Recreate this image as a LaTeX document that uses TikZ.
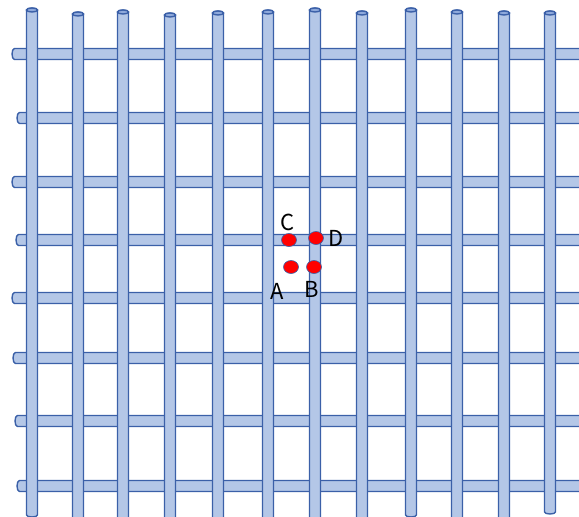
\documentclass[tikz,border=0pt]{standalone}
\usepackage{fontspec}
\newfontfamily\labfont{Noto Sans CJK JP}
\usetikzlibrary{shapes.geometric}
\definecolor{barfill}{HTML}{B4C7E7}
\definecolor{bardraw}{HTML}{3B60A8}
\definecolor{capfill}{HTML}{8FAADC}
\tikzset{
  barstyle/.style={fill=barfill,draw=bardraw,line width=1.4pt,line join=round},
  capstyle/.style={fill=capfill,draw=bardraw,line width=1.4pt},
  dotstyle/.style={ellipse,fill=red,draw=bardraw,line width=0.6pt,minimum width=15pt,minimum height=13pt,inner sep=0pt},
  labstyle/.style={font=\labfont\fontsize{22}{24}\selectfont,inner sep=0pt}
}
\begin{document}
\begin{tikzpicture}[x=1pt,y=-1pt]
\useasboundingbox (0,0) rectangle (579,517);
\clip (0,0) rectangle (579,517);
\fill[white] (0,0) rectangle (579,517);
% horizontal bars
\foreach \yy/\l in {54/12, 118/17, 182/12, 240/16, 298/12, 358/13, 421/15, 486/17}{
  \filldraw[barstyle] (590,\yy-5.5) -- (\l+2.5,\yy-5.5) arc[start angle=270,end angle=90,x radius=2.5,y radius=5.5] -- (590,\yy+5.5) -- cycle;
}
% vertical bars
\foreach \xx/\t/\b in {32/10/515, 78/14/530, 123/12/530, 170/15/530, 218/13/530, 268/12/530, 315/10/530, 362/13/530, 411/10/515, 457/12/530, 504/13/530, 550/13/512}{
  \filldraw[barstyle] (\xx-5.5,\b) -- (\xx-5.5,\t) arc[start angle=180,end angle=360,x radius=5.5,y radius=2] -- (\xx+5.5,\b) arc[start angle=0,end angle=180,x radius=5.5,y radius=2] -- cycle;
  \filldraw[capstyle] (\xx,\t) ellipse[x radius=5.5,y radius=2];
}
% points
\node[dotstyle] (C) at (289,240) {};
\node[dotstyle] (D) at (316,238) {};
\node[dotstyle] (A) at (291,267) {};
\node[dotstyle] (B) at (314,267) {};
\node[labstyle] (Clab) at (288,222) {C};
\node[labstyle] (Dlab) at (336,238) {D};
\node[labstyle] (Alab) at (277,291) {A};
\node[labstyle] (Blab) at (312,289) {B};
\end{tikzpicture}
\end{document}
